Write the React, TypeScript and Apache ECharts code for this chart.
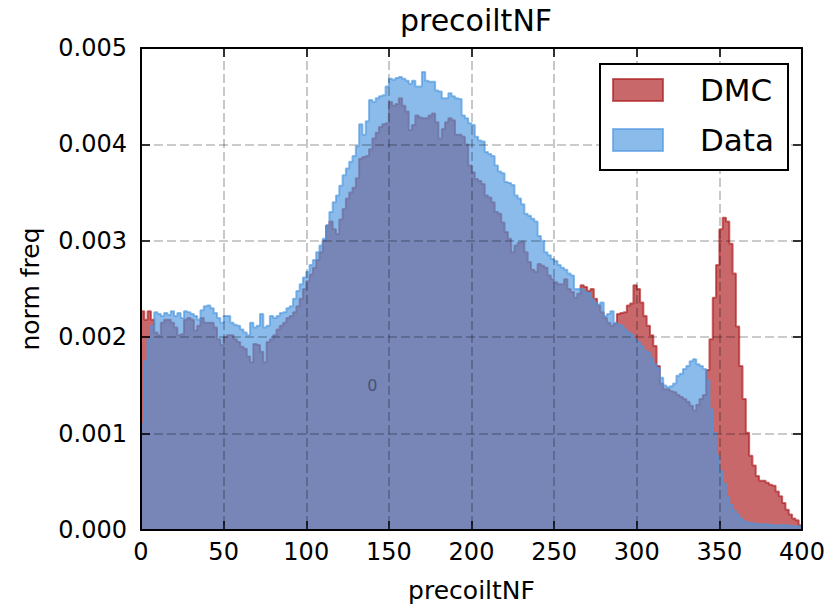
import React, { useEffect, useRef } from "react";
import * as echarts from "echarts";

// Histogram bins: 200 bins of width 2 over [0, 400]; values in units of 1e-3 (norm freq)
const binWidth = 2;
const xMin = 0;
const xMax = 400;
const yMax = 0.005;

const dmcE3 = [
  2.27, 2.18, 2.27, 2.18, 2.05, 2.02, 2.15, 2.18, 2.18, 2.15,
  2.10, 2.02, 2.03, 2.18, 2.20, 2.18, 2.07, 2.12, 2.20, 2.15,
  2.15, 2.15, 2.10, 1.98, 1.92, 2.00, 2.02, 2.02, 1.98, 1.95,
  1.90, 1.88, 1.80, 1.74, 1.93, 1.92, 1.85, 1.74, 1.95, 1.98,
  2.02, 2.08, 2.12, 2.15, 2.20, 2.22, 2.26, 2.32, 2.40, 2.50,
  2.58, 2.65, 2.72, 2.80, 2.88, 3.00, 3.16, 3.20, 3.12, 3.07,
  3.22, 3.33, 3.44, 3.50, 3.55, 3.65, 3.85, 3.87, 3.88, 3.95,
  4.06, 4.12, 4.18, 4.21, 4.22, 4.44, 4.40, 4.42, 4.48, 4.40,
  4.34, 4.15, 4.20, 4.30, 4.28, 4.27, 4.27, 4.30, 4.32, 4.23,
  4.06, 4.16, 4.23, 4.27, 4.25, 4.10, 4.10, 4.08, 4.00, 3.78,
  3.71, 3.64, 3.62, 3.59, 3.47, 3.45, 3.40, 3.30, 3.28, 3.19,
  3.09, 3.02, 2.88, 2.95, 2.98, 2.99, 2.88, 2.78, 2.70, 2.68,
  2.76, 2.74, 2.72, 2.64, 2.60, 2.57, 2.55, 2.55, 2.60, 2.50,
  2.47, 2.41, 2.45, 2.54, 2.52, 2.48, 2.50, 2.40, 2.33, 2.26,
  2.20, 2.15, 2.12, 2.14, 2.24, 2.25, 2.26, 2.33, 2.35, 2.54,
  2.50, 2.36, 2.22, 2.12, 2.02, 1.91, 1.70, 1.52, 1.46, 1.46,
  1.44, 1.43, 1.40, 1.38, 1.36, 1.33, 1.29, 1.24, 1.30, 1.36,
  1.40, 1.66, 1.98, 2.41, 2.75, 3.12, 3.24, 3.20, 2.97, 2.66,
  2.11, 1.70, 1.36, 1.01, 0.77, 0.67, 0.56, 0.51, 0.51, 0.49,
  0.47, 0.46, 0.40, 0.35, 0.28, 0.21, 0.16, 0.12, 0.10, 0.05,
];

const dataE3 = [
  1.10, 1.75, 1.98, 2.12, 2.26, 2.24, 2.22, 2.25, 2.23, 2.27,
  2.22, 2.25, 2.20, 2.27, 2.26, 2.24, 2.22, 2.18, 2.28, 2.32,
  2.33, 2.30, 2.25, 2.20, 2.15, 2.22, 2.22, 2.15, 2.13, 2.12,
  2.08, 2.05, 2.02, 2.15, 2.10, 2.12, 2.24, 2.10, 2.12, 2.22,
  2.20, 2.22, 2.25, 2.26, 2.30, 2.32, 2.40, 2.48, 2.55, 2.62,
  2.68, 2.75, 2.80, 2.88, 2.95, 3.02, 3.16, 3.30, 3.40, 3.47,
  3.57, 3.68, 3.75, 3.82, 3.88, 3.98, 4.21, 4.10, 4.24, 4.46,
  4.44, 4.48, 4.50, 4.51, 4.60, 4.68, 4.67, 4.69, 4.70, 4.68,
  4.66, 4.63, 4.66, 4.60, 4.60, 4.75, 4.66, 4.65, 4.65, 4.56,
  4.55, 4.48, 4.48, 4.53, 4.50, 4.48, 4.47, 4.30, 4.27, 4.22,
  4.20, 4.08, 4.04, 4.03, 3.92, 3.90, 3.88, 3.78, 3.72, 3.70,
  3.61, 3.60, 3.58, 3.47, 3.44, 3.38, 3.28, 3.26, 3.23, 3.20,
  3.05, 3.00, 2.88, 2.85, 2.81, 2.79, 2.75, 2.72, 2.70, 2.66,
  2.64, 2.50, 2.50, 2.50, 2.47, 2.46, 2.40, 2.36, 2.34, 2.36,
  2.22, 2.24, 2.27, 2.15, 2.13, 2.12, 2.08, 2.05, 2.03, 1.98,
  1.95, 1.91, 1.86, 1.84, 1.78, 1.72, 1.68, 1.58, 1.50, 1.48,
  1.49, 1.52, 1.60, 1.62, 1.67, 1.70, 1.75, 1.77, 1.72, 1.70,
  1.67, 1.55, 1.25, 1.01, 0.77, 0.61, 0.48, 0.34, 0.26, 0.20,
  0.16, 0.12, 0.09, 0.08, 0.07, 0.07, 0.06, 0.06, 0.06, 0.06,
  0.05, 0.05, 0.05, 0.05, 0.05, 0.05, 0.04, 0.04, 0.04, 0.04,
];

const seriesNames = ["DMC", "Data"];
const strayLabel = { x: 140, y: 0.0015, text: "0" };

const redA = "rgba(172,23,26,0.65)";
const blueA = "rgba(75,150,223,0.65)";
const font = "DejaVu Sans";

function stepPoints(vals: number[]): number[][] {
  const pts: number[][] = [[xMin, 0]];
  vals.forEach((v, i) => pts.push([xMin + i * binWidth, v / 1000]));
  pts.push([xMin + vals.length * binWidth, vals[vals.length - 1] / 1000]);
  pts.push([xMin + vals.length * binWidth, 0]);
  return pts;
}

export default function App() {
  const ref = useRef<HTMLDivElement>(null);
  useEffect(() => {
    if (!ref.current) return;
    const chart = echarts.init(ref.current, undefined, { renderer: "svg" });
    const frameLine = { show: true, onZero: false, lineStyle: { color: "#000", width: 2 } };
    const tick = { show: true, inside: true, length: 9, lineStyle: { color: "#000", width: 1.5 } };
    const gridLine = {
      show: true,
      lineStyle: { color: "rgba(0,0,0,0.27)", type: [9, 4], width: 1.6 },
    };
    chart.setOption({
      animation: false,
      textStyle: { fontFamily: font },
      title: {
        text: "precoiltNF",
        left: 471,
        top: 0,
        padding: [5, 5, 5, 5],
        textAlign: "center",
        textStyle: { fontSize: 30, fontWeight: "normal", color: "#000", fontFamily: font },
      },
      grid: { left: 141, top: 48, width: 661, height: 483, containLabel: false },
      xAxis: [
        {
          type: "value",
          min: xMin,
          max: xMax,
          interval: 50,
          position: "bottom",
          z: 10,
          axisLine: frameLine,
          axisTick: tick,
          axisLabel: { color: "#000", fontSize: 24, margin: 10, fontFamily: font },
          splitLine: gridLine,
          name: "precoiltNF",
          nameLocation: "middle",
          nameGap: 48,
          nameTextStyle: { fontSize: 25, color: "#000", fontFamily: font },
        },
        {
          type: "value",
          min: xMin,
          max: xMax,
          interval: 50,
          position: "top",
          z: 10,
          axisLine: frameLine,
          axisTick: tick,
          axisLabel: { show: false },
          splitLine: { show: false },
        },
      ],
      yAxis: [
        {
          type: "value",
          min: 0,
          max: yMax,
          interval: 0.001,
          position: "left",
          z: 10,
          axisLine: frameLine,
          axisTick: tick,
          axisLabel: {
            color: "#000",
            fontSize: 24,
            margin: 14,
            fontFamily: font,
            formatter: (v: number) => v.toFixed(3),
          },
          splitLine: gridLine,
          name: "norm freq",
          nameLocation: "middle",
          nameRotate: 90,
          nameGap: 98,
          nameTextStyle: { fontSize: 25, color: "#000", fontFamily: font },
        },
        {
          type: "value",
          min: 0,
          max: yMax,
          interval: 0.001,
          position: "right",
          z: 10,
          axisLine: frameLine,
          axisTick: tick,
          axisLabel: { show: false },
          splitLine: { show: false },
        },
      ],
      legend: {
        left: 600,
        top: 64,
        orient: "vertical",
        icon: "rect",
        itemWidth: 50,
        itemHeight: 22,
        itemGap: 14,
        padding: [8, 14, 12, 12],
        borderColor: "#000",
        borderWidth: 2,
        backgroundColor: "#fff",
        z: 20,
        textStyle: { fontSize: 31, color: "#000", fontFamily: font, padding: [0, 0, 0, 32], lineHeight: 36 },
        data: [
          { name: seriesNames[0], itemStyle: { color: redA, borderColor: redA, borderWidth: 2 } },
          { name: seriesNames[1], itemStyle: { color: blueA, borderColor: blueA, borderWidth: 2 } },
        ],
      },
      series: [
        {
          type: "line",
          name: seriesNames[0],
          step: "end",
          data: stepPoints(dmcE3),
          symbol: "none",
          xAxisIndex: 0,
          yAxisIndex: 0,
          lineStyle: { color: redA, width: 2 },
          itemStyle: { color: redA },
          areaStyle: { color: redA, opacity: 1 },
          z: 2,
          silent: true,
        },
        {
          type: "line",
          name: seriesNames[1],
          step: "end",
          data: stepPoints(dataE3),
          symbol: "none",
          xAxisIndex: 0,
          yAxisIndex: 0,
          lineStyle: { color: blueA, width: 2 },
          itemStyle: { color: blueA },
          areaStyle: { color: blueA, opacity: 1 },
          z: 3,
          silent: true,
        },
        {
          type: "scatter",
          name: "label",
          data: [[strayLabel.x, strayLabel.y]],
          symbolSize: 1,
          itemStyle: { color: "rgba(0,0,0,0)" },
          label: {
            show: true,
            position: "inside",
            formatter: strayLabel.text,
            fontSize: 16,
            color: "#3c4463",
            fontFamily: font,
          },
          z: 5,
          silent: true,
        },
      ],
    });
    return () => chart.dispose();
  }, []);
  return (
    <div
      ref={ref}
      style={{ position: "absolute", left: 0, top: 0, width: 833, height: 608 }}
    />
  );
}
